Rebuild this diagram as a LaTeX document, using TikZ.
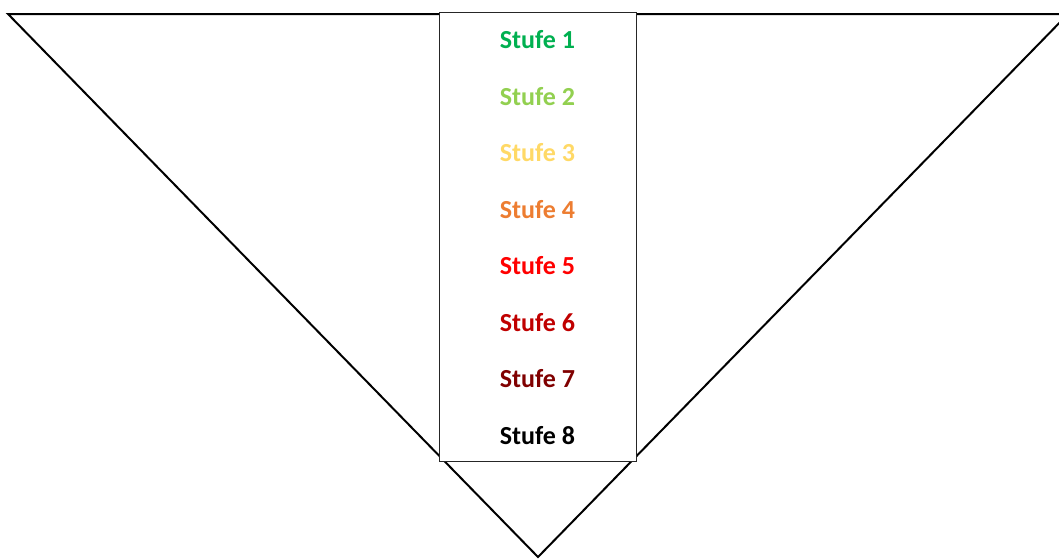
\documentclass[tikz,border=0pt]{standalone}
\usepackage{fontspec}
\setmainfont{Carlito}
\definecolor{s1}{HTML}{00B050}
\definecolor{s2}{HTML}{92D050}
\definecolor{s3}{HTML}{FFD966}
\definecolor{s4}{HTML}{ED7D31}
\definecolor{s5}{HTML}{FF0000}
\definecolor{s6}{HTML}{C00000}
\definecolor{s7}{HTML}{800000}
\definecolor{s8}{HTML}{000000}
\begin{document}
\begin{tikzpicture}[x=1pt,y=-1pt,
  tri/.style={draw=black,line width=2pt,line join=miter},
  box/.style={draw=black!85,line width=1.2pt,fill=white},
  lbl/.style={font=\fontsize{26}{30}\selectfont\bfseries,inner sep=0pt,anchor=center}]
\useasboundingbox (0,0) rectangle (1059,558);
\clip (0,0) rectangle (1059,558);
\coordinate (L) at (8,14);
\coordinate (R) at (1068,14);
\coordinate (A) at (538,557);
\draw[tri] (L) -- (R) -- (A) -- cycle;
\node[box,minimum width=197pt,minimum height=449pt,inner sep=0pt,anchor=north west] (rect) at (439,12) {};
\foreach \i/\yy in {1/40,2/97,3/153,4/210,5/266,6/323,7/379,8/436}{
  \node[lbl,text=s\i] (t\i) at (537.5,\yy) {Stufe \i};
}
\end{tikzpicture}
\end{document}
